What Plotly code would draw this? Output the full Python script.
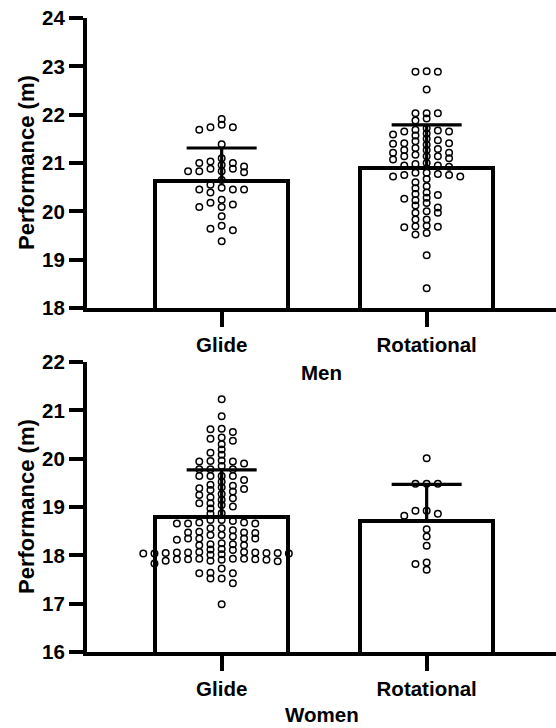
import plotly.graph_objects as go

# ---------------- data ----------------
categories = ["Glide", "Rotational"]

men_glide = [21.91, 21.79, 21.74, 21.74, 21.69, 21.39,
             21.10, 21.03, 20.96, 20.88, 20.81, 21.00, 20.83, 20.88, 20.93, 20.83, 21.00, 20.83,
             20.65, 20.55, 20.39, 20.45, 20.49, 20.45, 20.45,
             20.18, 20.09, 20.14, 20.24, 20.09, 19.90, 19.70, 19.61, 19.64, 19.38]

men_rot = [22.90, 22.89, 22.89, 22.52, 22.03, 22.03, 22.03, 21.92, 21.88,
           21.67, 21.45, 21.21, 21.00,
           21.61, 21.50, 21.41, 21.21, 21.10, 20.92,
           21.72, 21.57, 21.38, 21.27, 21.17, 21.07,
           21.65, 21.41, 21.14, 20.95,
           21.65, 21.40, 21.31, 21.14,
           21.69, 21.59, 21.27, 21.14, 20.95,
           21.47, 21.29, 20.98,
           20.72, 20.75, 20.80, 20.77, 20.80, 20.75, 20.72,
           20.60, 20.67, 20.52,
           20.39, 20.48, 20.34, 20.36, 20.28, 20.26, 20.17, 20.00, 20.08, 19.97,
           20.23, 20.12, 19.97, 19.83, 19.83, 19.67, 19.70, 19.68, 19.69,
           19.52, 19.55, 19.09, 18.41]

women_glide = [21.23, 20.88, 20.55, 20.41, 20.61, 20.44, 20.30, 20.62, 20.37, 20.19,
               20.12, 20.08, 19.94, 19.96, 19.95, 19.94, 19.90, 19.85, 19.78, 19.78,
               19.78, 19.64, 19.64, 19.64, 19.64,
               19.41, 19.27, 19.52, 19.39, 19.18, 19.04, 19.56, 19.44, 19.32, 19.20,
               19.08, 18.97, 19.46, 19.37, 19.25, 19.15, 19.01, 19.35, 19.08, 18.87, 18.86,
               18.73, 18.68, 18.71, 18.66, 18.66, 18.66, 18.68, 18.73,
               18.49, 18.35, 18.56, 18.46, 18.35, 18.23, 18.52, 18.42, 18.35, 18.23,
               18.47, 18.25, 18.35, 18.21, 18.56, 18.47, 18.39, 18.42, 18.32, 18.21, 18.11,
               18.13, 18.12, 18.07, 18.06, 18.06, 18.05, 18.05, 18.04, 18.04, 18.06,
               18.05, 18.07, 18.04, 18.02, 18.01,
               17.92, 17.92, 17.88, 17.93, 17.89, 17.93, 17.91, 17.92, 17.91, 17.83,
               17.93, 17.89,
               17.63, 17.73, 17.63, 17.52, 17.42, 17.64, 17.52, 16.99]

women_rot = [20.01, 19.48, 19.48, 19.48, 18.92, 18.82, 18.86, 18.92,
             18.54, 18.39, 18.20, 17.85, 17.82, 17.70]

men_mean = [20.62, 20.90]
men_sd = [0.69, 0.89]
women_mean = [18.80, 18.71]
women_sd = [0.97, 0.76]

men_yticks = [18, 19, 20, 21, 22, 23, 24]
women_yticks = [16, 17, 18, 19, 20, 21, 22]

# ---------------- layout constants ----------------
W, H = 556, 728
PLOT_L = 87
PLOT_W = W - PLOT_L
X_RANGE = [-0.657, 1.631]
PX_PER_CAT = PLOT_W / (X_RANGE[1] - X_RANGE[0])
COL_STEP = 11.2 / PX_PER_CAT
MIN_GAP = 0.11
FONT = "Liberation Sans"
BLACK = "black"
LW = 4


def fy(screen_y):
    """pixel row -> paper fraction"""
    return 1 - screen_y / H


def swarm(values, center):
    """Simple column beeswarm: highest first, columns 0, -1, +1, -2, +2 ..."""
    order = sorted(range(len(values)), key=lambda i: -values[i])
    placed = {}
    xs = [0.0] * len(values)
    for i in order:
        v = values[i]
        k = 0
        chosen = None
        while chosen is None:
            cands = [0] if k == 0 else [-k, k]
            for c in cands:
                if all(abs(v - y) >= MIN_GAP - 1e-9 for y in placed.get(c, [])):
                    chosen = c
                    break
            k += 1
        placed.setdefault(chosen, []).append(v)
        xs[i] = center + chosen * COL_STEP
    return xs


fig = go.Figure()

panels = [
    ("x", "y", [men_glide, men_rot], men_mean, men_sd),
    ("x2", "y2", [women_glide, women_rot], women_mean, women_sd),
]

for xa, ya, groups, means, sds in panels:
    fig.add_trace(go.Bar(
        x=[0, 1], y=means, width=0.65,
        marker=dict(color="white", line=dict(color=BLACK, width=LW)),
        xaxis=xa, yaxis=ya, showlegend=False, hoverinfo="skip"))
    for ci, vals in enumerate(groups):
        fig.add_trace(go.Scatter(
            x=swarm(vals, ci), y=vals, mode="markers",
            marker=dict(symbol="circle-open", size=6.5, color=BLACK,
                        line=dict(width=1.5, color=BLACK)),
            xaxis=xa, yaxis=ya, showlegend=False))
    fig.add_trace(go.Scatter(
        x=[0, 1], y=means, mode="markers",
        marker=dict(size=2, color="rgba(0,0,0,0)"),
        error_y=dict(type="data", array=sds, arrayminus=[0, 0], symmetric=False,
                     thickness=3.2, width=35, color=BLACK),
        xaxis=xa, yaxis=ya, showlegend=False, hoverinfo="skip"))

tickfont = dict(family=FONT, size=20.5, color=BLACK, weight="bold")

common_x = dict(range=X_RANGE, tickvals=[0, 1], ticktext=categories,
                showline=True, linewidth=LW, linecolor=BLACK,
                ticks="outside", ticklen=15, tickwidth=LW, tickcolor=BLACK,
                tickfont=tickfont, showgrid=False, zeroline=False, automargin=False,
                ticklabeloverflow="allow")
common_y = dict(showline=True, linewidth=LW, linecolor=BLACK,
                ticks="outside", ticklen=14, tickwidth=LW, tickcolor=BLACK,
                tickfont=tickfont, showgrid=False, zeroline=False, automargin=False,
                ticklabeloverflow="allow")

top_dom = [fy(308), fy(18)]
bot_dom = [fy(652), fy(362)]

fig.update_layout(
    template="none",
    width=W, height=H,
    margin=dict(l=PLOT_L, r=0, t=0, b=0, autoexpand=False),
    paper_bgcolor="white", plot_bgcolor="white",
    bargap=0,
    hovermode=False,
    xaxis=dict(**common_x, domain=[0, 1], anchor="y"),
    yaxis=dict(**common_y, range=[men_yticks[0], men_yticks[-1]], tickvals=men_yticks,
               domain=top_dom, anchor="x"),
    xaxis2=dict(**common_x, domain=[0, 1], anchor="y2"),
    yaxis2=dict(**common_y, range=[women_yticks[0], women_yticks[-1]], tickvals=women_yticks,
                domain=bot_dom, anchor="x2"),
)

title_font = dict(family=FONT, size=20.5, color=BLACK, weight="bold")
ytitle_font = dict(family=FONT, size=22, color=BLACK, weight="bold")
for text, yc in [("Men", 372), ("Women", 714)]:
    fig.add_annotation(xref="paper", yref="paper", x=0.5, y=fy(yc), text=text,
                       showarrow=False, font=title_font, xanchor="center", yanchor="middle")
for yc in [163, 507]:
    fig.add_annotation(xref="paper", yref="paper", x=(26 - PLOT_L) / PLOT_W, y=fy(yc),
                       text="Performance (m)", textangle=-90, showarrow=False,
                       font=ytitle_font, xanchor="center", yanchor="middle")

# remove the browser's default 8px body margin so the figure fills the window
fig.write_html("out.html", config={"displayModeBar": False},
               post_script="document.body.style.margin='0';")
